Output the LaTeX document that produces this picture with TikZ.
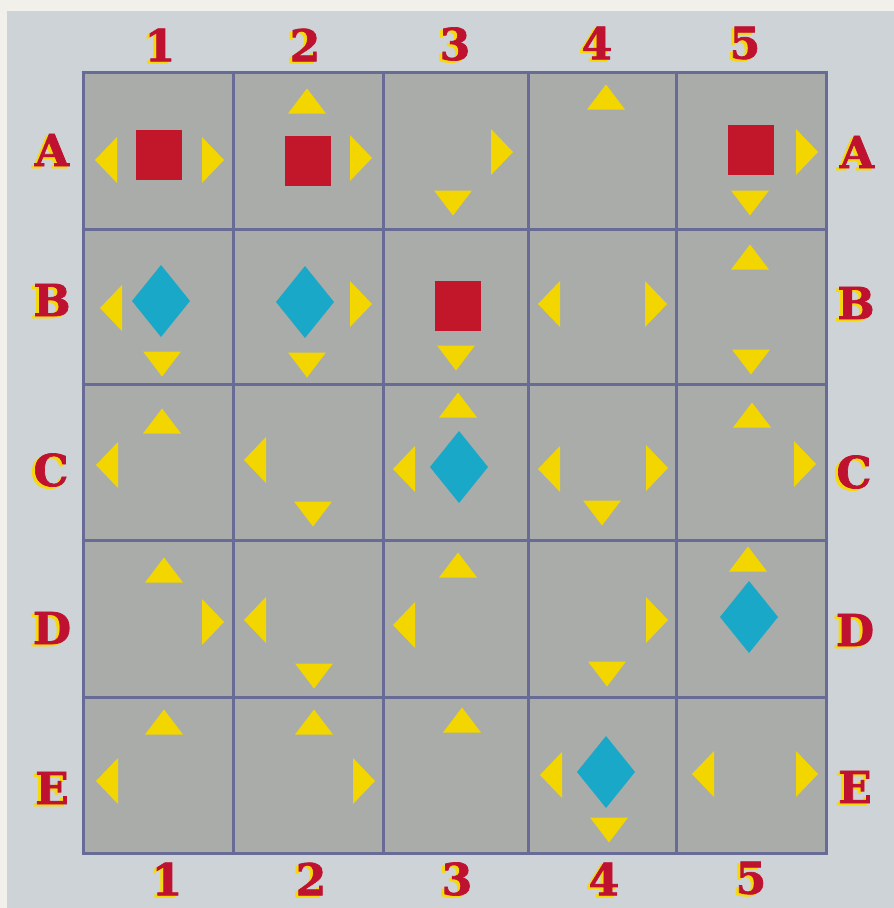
\documentclass[tikz,border=0pt]{standalone}
\usepackage{fontspec}
\newfontfamily\labfont{DejaVu Serif Bold}[FakeBold=1.6]
\definecolor{paper}{HTML}{F1F0EA}
\definecolor{panel}{HTML}{CDD3D6}
\definecolor{cellgrey}{HTML}{A9ACA8}
\definecolor{gridline}{HTML}{676B96}
\definecolor{tri}{HTML}{F3D600}
\definecolor{blockred}{HTML}{C2172B}
\definecolor{gem}{HTML}{1AA8C8}
\definecolor{labred}{HTML}{BE1230}
\definecolor{labyel}{HTML}{F5D90A}
\tikzset{
  x=1pt, y=-1pt,
  tU/.pic={\fill[tri] (0,-12.5) -- (19,12.5) -- (-19,12.5) -- cycle;},
  tD/.pic={\fill[tri] (0,12.5) -- (19,-12.5) -- (-19,-12.5) -- cycle;},
  tL/.pic={\fill[tri] (-11,0) -- (11,-23) -- (11,23) -- cycle;},
  tR/.pic={\fill[tri] (11,0) -- (-11,-23) -- (-11,23) -- cycle;},
  sq/.pic={\fill[blockred] (-23,-25) rectangle (23,25);},
  dia/.pic={\fill[gem] (0,-36) -- (29,0) -- (0,36) -- (-29,0) -- cycle;},
  labtxt/.style={font=\labfont\fontsize{44}{44}\selectfont, inner sep=0pt},
  labshadow/.style={labtxt, text=labyel},
  labmain/.style={labtxt, text=labred},
}
\newcommand{\lab}[3]{%
  \node[labshadow] at ([shift={(-3,2)}]#1) {#3};
  \node[labmain] (#2) at (#1) {#3};}
\begin{document}
\begin{tikzpicture}
\useasboundingbox (0,0) rectangle (894,908);
\fill[paper] (0,0) rectangle (894,908);
\fill[panel] (7,11) rectangle (894,908);
% cells
\fill[cellgrey] (83,72) rectangle (826,853);
\foreach \x in {83,233,383,528,676,826}
  \draw[gridline, line width=3pt] (\x,70.5) -- (\x,854.5);
\foreach \y in {72,229,384,540,697,853}
  \draw[gridline, line width=3pt] (81.5,\y) -- (827.5,\y);
% row A
\pic at (106,160) {tL}; \pic at (159,155) {sq}; \pic at (213,160) {tR};
\pic at (307,101) {tU}; \pic at (308,161) {sq}; \pic at (361,158) {tR};
\pic at (502,152) {tR}; \pic at (453,203) {tD};
\pic at (606,97) {tU};
\pic at (751,150) {sq}; \pic at (807,152) {tR}; \pic at (750,203) {tD};
% row B
\pic at (111,308) {tL}; \pic at (161,301) {dia}; \pic at (162,364) {tD};
\pic at (305,302) {dia}; \pic at (361,304) {tR}; \pic at (307,365) {tD};
\pic at (458,306) {sq}; \pic at (456,358) {tD};
\pic at (549,304) {tL}; \pic at (656,304) {tR};
\pic at (750,257) {tU}; \pic at (751,362) {tD};
% row C
\pic at (162,421) {tU}; \pic at (107,465) {tL};
\pic at (255,460) {tL}; \pic at (313,514) {tD};
\pic at (458,405) {tU}; \pic at (404,469) {tL}; \pic at (459,467) {dia};
\pic at (549,469) {tL}; \pic at (657,468) {tR}; \pic at (602,513) {tD};
\pic at (752,415) {tU}; \pic at (805,464) {tR};
% row D
\pic at (164,570) {tU}; \pic at (213,622) {tR};
\pic at (255,620) {tL}; \pic at (314,676) {tD};
\pic at (458,565) {tU}; \pic at (404,625) {tL};
\pic at (657,620) {tR}; \pic at (607,674) {tD};
\pic at (748,559) {tU}; \pic at (749,617) {dia};
% row E
\pic at (164,722) {tU}; \pic at (107,781) {tL};
\pic at (314,722) {tU}; \pic at (364,781) {tR};
\pic at (462,720) {tU};
\pic at (551,775) {tL}; \pic at (606,772) {dia}; \pic at (609,830) {tD};
\pic at (703,774) {tL}; \pic at (807,774) {tR};
% labels
\lab{160,45}{t1}{1} \lab{305,45}{t2}{2} \lab{455,44}{t3}{3} \lab{597,43}{t4}{4} \lab{745,43}{t5}{5}
\lab{167,879}{b1}{1} \lab{311,879}{b2}{2} \lab{457,879}{b3}{3} \lab{604,879}{b4}{4} \lab{751,878}{b5}{5}
\lab{52,150}{lA}{A} \lab{52,300}{lB}{B} \lab{51,470}{lC}{C} \lab{52,628}{lD}{D} \lab{52,788}{lE}{E}
\lab{857,152}{rA}{A} \lab{856,303}{rB}{B} \lab{854,472}{rC}{C} \lab{855,630}{rD}{D} \lab{855,787}{rE}{E}
\end{tikzpicture}
\end{document}
